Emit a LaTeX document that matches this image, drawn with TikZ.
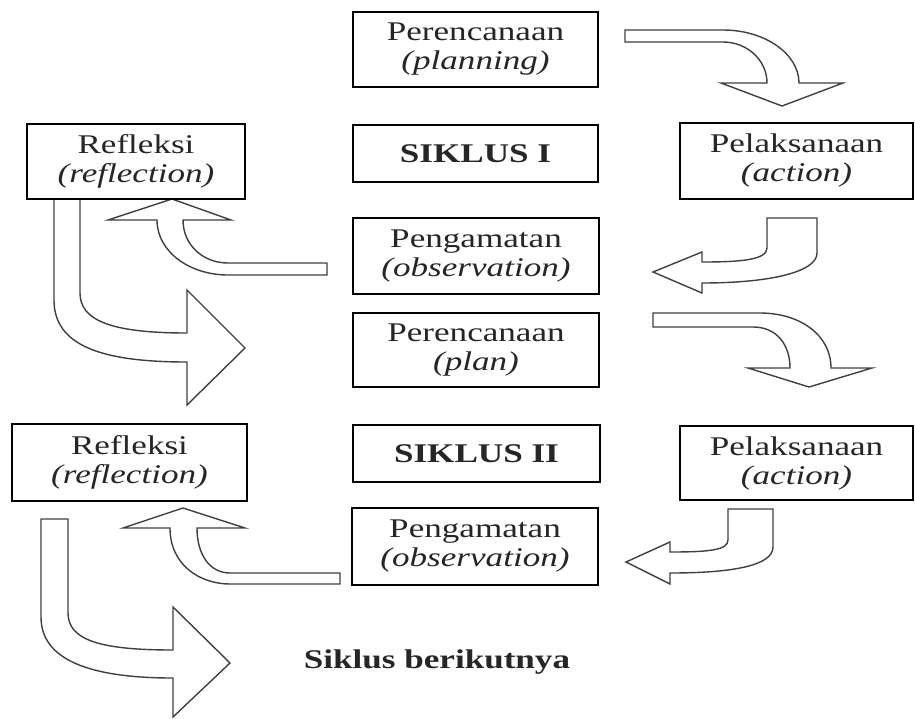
\documentclass[tikz,border=0pt]{standalone}
\usepackage{fontspec}
\setmainfont{Liberation Serif}[FakeStretch=1.3]
\begin{document}
\begin{tikzpicture}[x=0.5pt,y=-0.5pt,
  box/.style={draw=black, line width=1.1pt, fill=white, inner sep=0pt, align=center,
    text=black!85, font=\fontsize{13.5}{14.5}\selectfont},
  barrow/.style={draw=black!75, line width=0.7pt, fill=white, line join=miter}]
\useasboundingbox (0,0) rectangle (915,718);

% block arrows
\draw[barrow] (625,30) -- (723,30) .. controls (765,30) and (799,54) .. (799,83) -- (843,83) -- (782,106) -- (721,83) -- (767,83) .. controls (767,60) and (747,42) .. (723,42) -- (625,42) -- cycle;
\draw[barrow] (767,218) -- (817,218) -- (817,253) .. controls (817,272) and (770,283) .. (702,283) -- (702,293) -- (653,272) -- (702,252) -- (702,262) .. controls (740,262) and (767,260) .. (767,248) -- cycle;
\draw[barrow] (327,263) -- (228,263) .. controls (203,263) and (183,245) .. (183,220) -- (231,220) -- (172,199) -- (108,220) -- (157,220) .. controls (157,252) and (190,275) .. (228,275) -- (327,275) -- cycle;
\draw[barrow] (54,199) -- (80,199) -- (80,293) .. controls (80,320) and (110,333) .. (187,333) -- (187,290) -- (245,348) -- (187,405) -- (187,362) .. controls (100,362) and (54,345) .. (54,300) -- cycle;
\draw[barrow] (653,313) -- (760,313) .. controls (800,313) and (831,335) .. (831,368) -- (872,368) -- (809,387) -- (748,368) -- (790,368) .. controls (790,345) and (777,327) .. (753,327) -- (653,327) -- cycle;
\draw[barrow] (728,509) -- (773,509) -- (773,547) .. controls (773,565) and (735,573) .. (670,573) -- (670,584) -- (626,562) -- (670,542) -- (670,552) .. controls (710,552) and (728,550) .. (728,540) -- cycle;
\draw[barrow] (340,573) -- (230,573) .. controls (210,573) and (197,555) .. (197,528) -- (245,528) -- (183,508) -- (123,528) -- (170,528) .. controls (170,565) and (200,584) .. (230,584) -- (340,584) -- cycle;
\draw[barrow] (41,519) -- (68,519) -- (68,613) .. controls (68,640) and (100,650) .. (173,650) -- (173,607) -- (230,663) -- (173,717) -- (173,678) .. controls (90,678) and (41,660) .. (41,617) -- cycle;

% boxes
\node[box, minimum width=122.5pt, minimum height=37.5pt] (plan1) at (475.5,49.5) {Perencanaan\\\textit{(planning)}};
\node[box, minimum width=122.5pt, minimum height=28.5pt] (sik1) at (475.5,153.5) {\textbf{SIKLUS I}};
\node[box, minimum width=109pt, minimum height=37.5pt] (refl1) at (136,161.5) {Refleksi\\\textit{(reflection)}};
\node[box, minimum width=116.5pt, minimum height=38pt] (act1) at (796.5,161) {Pelaksanaan\\\textit{(action)}};
\node[box, minimum width=123pt, minimum height=38pt] (obs1) at (476,256) {Pengamatan\\\textit{(observation)}};
\node[box, minimum width=123pt, minimum height=37pt] (plan2) at (476,350) {Perencanaan\\\textit{(plan)}};
\node[box, minimum width=117.5pt, minimum height=38.5pt] (refl2) at (129.5,462.5) {Refleksi\\\textit{(reflection)}};
\node[box, minimum width=123.5pt, minimum height=28.5pt] (sik2) at (476.5,453.5) {\textbf{SIKLUS II}};
\node[box, minimum width=116.5pt, minimum height=37pt] (act2) at (796.5,463) {Pelaksanaan\\\textit{(action)}};
\node[box, minimum width=123pt, minimum height=38.5pt] (obs2) at (475,546.5) {Pengamatan\\\textit{(observation)}};
\node[text=black!85, font=\fontsize{13.5}{14.5}\selectfont\bfseries] (next) at (437,662) {Siklus berikutnya};
\end{tikzpicture}
\end{document}
